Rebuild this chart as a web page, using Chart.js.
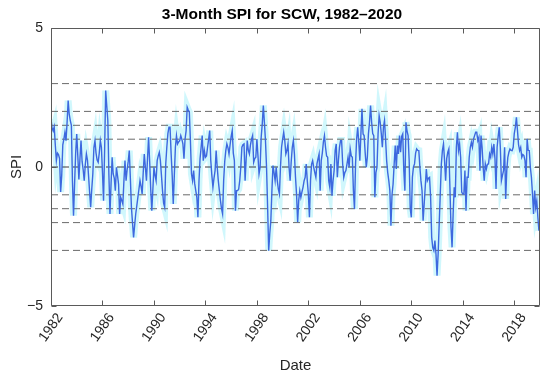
<!DOCTYPE html>
<html><head><meta charset="utf-8">
<script src="https://cdn.jsdelivr.net/npm/chart.js@4.4.0/dist/chart.umd.min.js"></script>
<style>html,body{margin:0;padding:0;background:#fff;}</style>
</head><body>
<canvas id="c" width="550" height="379" style="width:550px;height:379px;display:block"></canvas>
<script>
const startYear = 1982;
const endYear = 2020;
const chartTitle = '3-Month SPI for SCW, 1982\u20132020';
const xTitle = 'Date';
const yTitle = 'SPI';
const xTickYears = [1982, 1986, 1990, 1994, 1998, 2002, 2006, 2010, 2014, 2018];
const yTickValues = [-5, 0, 5];
const thresholdLevels = [3, 2, 1.5, 1, 0, -1, -1.5, -2, -3];
// monthly 3-month SPI, Jan 1982 .. Dec 2019
const spiValues = [
 1.73, 1.4, 1.3, 1.45, 0.8, 0.23, 0.5, 0.45, 0.3, -0.9,
 -0.3, 0.8, 1.0, 1.25, 0.95, 1.6, 2.39, 1.9, 1.67, 1.5,
 -0.5, -1.75, -0.6, 0.5, 1.19, 0.4, -0.45, 0.3, 0.95, 0.2,
 -0.1, -0.49, 0.1, 0.47, 0.25, -0.3, -0.9, -1.45, -0.8, -0.25,
 0.7, 0.95, 0.5, 0.25, 0.17, 0.5, 0.95, 0.71, -0.2, -1.21,
 0.6, 2.75, 2.2, 1.67, -0.3, -1.69, -0.6, 0.35, -0.25, -0.4,
 -0.85, -0.01, -0.3, -0.61, -1.69, -1.09, -1.2, -1.33, -0.5, 0.23,
 -0.49, -0.1, 0.2, 0.59, -0.4, -1.45, -2.0, -2.53, -2.1, -1.69,
 -1.4, -1.09, -0.8, -0.49, -0.7, -0.97, -0.2, 0.47, 0.0, -0.49,
 0.3, 1.07, 0.2, -0.8, -1.57, -0.8, -0.01, -0.3, -0.49, 0.23,
 0.4, 0.53, 0.23, -0.3, -0.85, -1.3, -1.45, 0.11, 0.71, 1.2,
 1.43, 1.43, 0.5, -0.3, -1.33, -0.3, 0.71, 1.13, 0.83, 0.9,
 0.95, 1.13, 1.0, 0.83, 0.3, 1.0, 1.31, 2.15, 2.05, 1.97,
 0.95, -0.25, -0.49, -0.13, -0.6, -0.85, -1.09, -1.81, -0.5, 0.3,
 0.71, 1.13, 0.23, 0.59, 0.35, 0.4, 0.71, 1.0, 1.31, 0.23,
 -0.3, -0.73, -0.4, -0.13, 0.59, 0.0, -0.49, -0.85, -1.2, -1.5,
 -1.69, -0.49, 0.2, 0.59, 0.83, 0.7, 0.47, 0.8, 1.1, 1.31,
 0.5, 0.23, -1.57, -0.85, -0.85, -0.8, -0.49, 0.0, 0.71, 0.8,
 0.83, -0.49, 0.3, 0.95, 0.6, 0.47, 0.8, 1.0, 1.13, 0.17,
 0.3, 0.35, 1.01, 0.4, -0.25, -0.01, 1.07, 1.55, 2.21, 1.6,
 0.95, -0.01, -1.45, -3.01, -2.4, -1.93, -0.85, 0.05, -0.2, -0.49,
 -0.01, -0.49, -0.8, -0.97, 0.0, 0.71, 1.0, 1.25, 0.95, 0.47,
 0.6, 0.83, -0.01, -0.49, 0.2, 0.71, 0.95, 0.47, -0.37, -1.0,
 -1.99, -1.2, -0.85, -1.09, -0.9, -0.73, -0.5, -0.37, 0.11, -0.5,
 -0.97, -1.81, -0.49, 0.1, 0.23, -0.01, -0.2, -0.37, 0.11, 0.3,
 0.47, -0.85, 0.23, 0.5, 0.9, 1.13, 0.71, 0.4, 0.35, -0.5,
 -0.73, 0.11, -1.03, -0.5, -0.13, 0.6, 0.83, -0.37, 0.23, 0.71,
 0.95, 0.95, 0.11, -0.37, -0.2, -0.13, 0.1, 0.35, -0.01, 0.65,
 0.4, 0.35, -0.85, -1.51, 0.11, 1.01, 1.43, 0.9, 0.23, 1.2,
 2.09, 1.19, 1.13, 0.5, -0.01, 0.35, 1.19, 1.6, 2.21, 1.61,
 1.2, 1.13, -1.09, -0.2, -0.01, 1.2, 1.85, 1.61, 1.2, 0.71,
 1.43, 1.67, 1.0, 0.23, -0.2, -0.49, -0.85, -2.11, -1.0, -0.61,
 0.11, 0.77, -0.07, 0.77, 0.47, 1.13, 0.53, 1.1, 1.19, -0.13,
 -0.85, 1.61, 1.3, 1.13, 0.23, -1.5, -1.81, -0.37, 0.0, 0.11,
 0.5, 0.65, 0.6, 0.59, -0.01, -0.5, -0.85, -1.93, -1.33, -0.7,
 -0.07, -0.49, -0.4, -0.37, -1.09, -2.53, -2.9, -3.01, -2.65, -3.13,
 -3.91, -3.13, -2.05, -0.97, 0.11, 0.6, 0.83, 0.23, -0.49, 0.3,
 0.53, 0.65, -0.73, -2.17, -2.89, -1.69, -0.73, -1.09, 0.71, 1.25,
 0.59, 0.83, 0.35, -0.9, -0.97, -0.97, -0.13, -1.57, -0.37, -0.37,
 0.35, 0.71, 0.89, 0.71, 1.0, 1.13, 1.25, 1.25, 0.95, 1.07,
 -0.13, 1.13, 0.71, -0.01, -0.49, 0.11, -0.07, 0.1, 0.11, 0.47,
 0.35, 0.71, 0.47, 0.83, 0.3, -0.79, 0.71, 1.1, 1.43, 0.71,
 -0.49, -0.3, -0.13, 0.71, -1.15, -0.13, 0.35, 0.53, 0.65, 0.6,
 0.59, 0.71, 1.2, 1.43, 1.79, 1.31, 0.8, 0.59, 0.71, 0.35,
 0.45, 0.41, 0.23, -0.37, 1.01, 0.6, 0.59, -0.01, -0.37, -0.97,
 -1.69, -0.85, -1.45, -1.21, -1.8, -2.29
];

const FONT = '"Liberation Sans", Arial, Helvetica, sans-serif';
const spiPoints = spiValues.map((v, i) => ({ x: startYear + i / 12, y: v }));

const datasets = [];
datasets.push({
  label: 'SPI', data: spiPoints, borderColor: '#3d68df', borderWidth: 1.4,
  pointRadius: 0, tension: 0, order: 0
});
thresholdLevels.forEach(t => {
  datasets.push({
    label: 'level ' + t,
    data: [{ x: startYear, y: t }, { x: endYear, y: t }],
    borderColor: t === 0 ? '#3a3a3a' : '#6a6a6a', borderWidth: 1,
    borderDash: [7, 4], pointRadius: 0, order: 1
  });
});
datasets.push({
  label: 'halo', data: spiPoints, borderColor: 'rgba(200,246,252,0.85)', borderWidth: 7,
  pointRadius: 0, tension: 0, order: 2
});

const boxPlugin = {
  id: 'box',
  afterDatasetsDraw(chart) {
    const { ctx, chartArea: a, scales } = chart;
    ctx.save();
    ctx.strokeStyle = '#5a5a5a';
    ctx.lineWidth = 1;
    const L = Math.round(a.left) + 0.5, R = Math.round(a.right) - 0.5;
    const T = Math.round(a.top) + 0.5, B = Math.round(a.bottom) - 0.5;
    ctx.beginPath();
    ctx.rect(L, T, R - L, B - T);
    xTickYears.forEach(v => {
      const px = Math.round(scales.x.getPixelForValue(v)) + 0.5;
      ctx.moveTo(px, B); ctx.lineTo(px, B - 5);
      ctx.moveTo(px, T); ctx.lineTo(px, T + 5);
    });
    yTickValues.forEach(v => {
      const py = Math.round(scales.y.getPixelForValue(v)) + 0.5;
      ctx.moveTo(L, py); ctx.lineTo(L + 5, py);
      ctx.moveTo(R, py); ctx.lineTo(R - 5, py);
    });
    ctx.stroke();
    ctx.restore();
  }
};

new Chart(document.getElementById('c'), {
  type: 'line',
  data: { datasets },
  plugins: [boxPlugin],
  options: {
    responsive: false, animation: false, devicePixelRatio: 1,
    layout: { padding: { left: 24, right: 10, top: 0, bottom: 0 } },
    plugins: {
      legend: { display: false }, tooltip: { enabled: false },
      title: {
        display: true, text: chartTitle, color: '#000',
        font: { family: FONT, size: 15.5, weight: 'bold' },
        padding: { top: 5, bottom: 4.4 }
      }
    },
    scales: {
      x: {
        type: 'linear', min: startYear, max: endYear,
        afterBuildTicks: s => { s.ticks = xTickYears.map(v => ({ value: v })); },
        afterFit: s => { s.height = 73; },
        grid: { display: false, drawTicks: false },
        border: { display: false },
        ticks: {
          autoSkip: false, minRotation: 55, maxRotation: 55, padding: 4, labelOffset: 9,
          color: '#262626', font: { family: FONT, size: 14 },
          callback: v => String(v)
        },
        title: { display: true, text: xTitle, color: '#262626',
          font: { family: FONT, size: 15 }, padding: { top: 0, bottom: 4 } }
      },
      y: {
        min: -5, max: 5,
        afterBuildTicks: s => { s.ticks = yTickValues.map(v => ({ value: v })); },
        afterFit: s => { s.width = 27; },
        grid: { display: false, drawTicks: false },
        border: { display: false },
        ticks: {
          padding: 8, color: '#262626', font: { family: FONT, size: 14 },
          callback: v => (v < 0 ? '\u2212' + Math.abs(v) : String(v))
        },
        title: { display: true, text: yTitle, color: '#262626',
          font: { family: FONT, size: 15 }, padding: { top: -16, bottom: 0 } }
      }
    }
  }
});
</script>
</body></html>
